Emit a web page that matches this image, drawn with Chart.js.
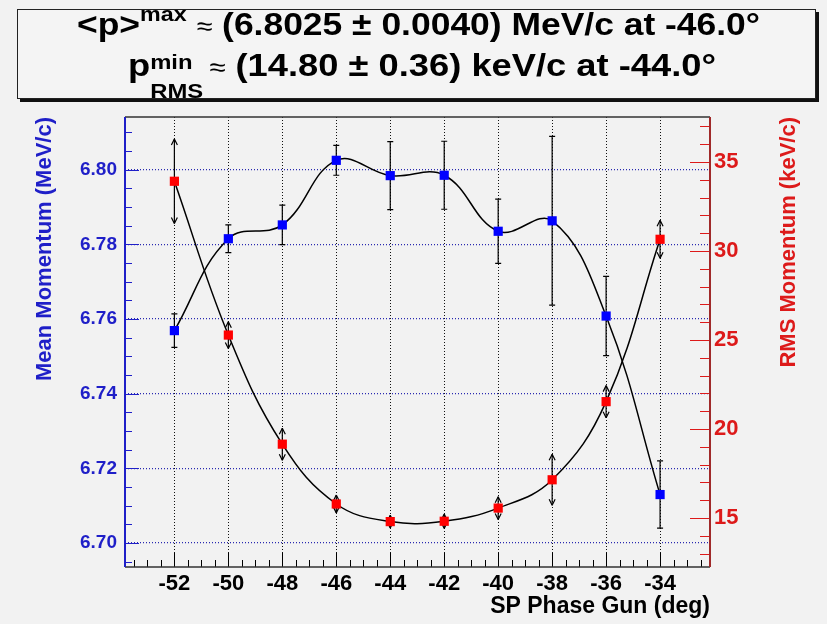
<!DOCTYPE html>
<html>
<head>
<meta charset="utf-8">
<script src="https://cdn.jsdelivr.net/npm/chart.js@4.4.0/dist/chart.umd.min.js"></script>
<style>
  html, body { margin: 0; padding: 0; background: #f2f2f2; }
  #wrap { position: relative; width: 827px; height: 624px; background: #f2f2f2; overflow: hidden; }
  #chart { position: absolute; left: 0; top: 0; }
  #pave {
    position: absolute; left: 17px; top: 9px; width: 797px; height: 88px;
    background: #f4f4f4; border: 1px solid #222; box-shadow: 3px 3px 0 #111;
    font-family: 'Liberation Sans', Arial, sans-serif; font-weight: bold; color: #000;
  }
  .line { position: absolute; white-space: nowrap; font-size: 32px; line-height: 1; transform-origin: 0 0; }
  .sup { font-size: 21px; position: relative; top: -14px; }
  .stack { display: inline-block; position: relative; width: 52px; height: 1em; }
  .stack .up { position: absolute; left: 0; top: 7px; font-size: 21px; }
  .stack .dn { position: absolute; left: 0; top: 36px; font-size: 21px; }
  .approx { font-size: 26px; font-weight: normal; }
</style>
</head>
<body>
<div id="wrap">
  <canvas id="chart" width="827" height="624"></canvas>
  <div id="pave">
    <div class="line" id="line1"></div>
    <div class="line" id="line2"></div>
  </div>
</div>
<script>
// phase of the SP gun (deg)
const phase = [-52, -50, -48, -46, -44, -42, -40, -38, -36, -34];
// mean momentum (MeV/c) and its error
const meanMomentum = [6.7569, 6.7815, 6.7852, 6.8025, 6.7984, 6.7985, 6.7835, 6.7863, 6.7608, 6.7130];
const meanError = [0.0045, 0.0037, 0.0053, 0.0040, 0.0091, 0.0091, 0.0086, 0.0226, 0.0106, 0.0090];
// RMS momentum (keV/c) and its error
const rmsMomentum = [33.92, 25.28, 19.15, 15.79, 14.80, 14.82, 15.56, 17.15, 21.54, 30.66];
const rmsError = [2.37, 0.75, 0.90, 0.50, 0.36, 0.40, 0.64, 1.43, 0.90, 1.07];

const FONT = "'Liberation Sans', Arial, sans-serif";
const BLUE = '#1f1fc8';
const RED = '#dd1a1a';

// title box text, built from the best points
const iMax = meanMomentum.indexOf(Math.max(...meanMomentum));
const iMin = rmsMomentum.indexOf(Math.min(...rmsMomentum));
document.getElementById('line1').innerHTML =
  '&lt;p&gt;<span class="sup">max</span> <span class="approx">≈</span> (' + meanMomentum[iMax].toFixed(4) +
  ' ± ' + meanError[iMax].toFixed(4) + ') MeV/c at ' + phase[iMax].toFixed(1) + '°';
document.getElementById('line2').innerHTML =
  'p<span class="stack"><span class="up">min</span><span class="dn">RMS</span></span>' +
  '<span class="approx">≈</span> (' + rmsMomentum[iMin].toFixed(2) + ' ± ' + rmsError[iMin].toFixed(2) +
  ') keV/c at ' + phase[iMin].toFixed(1) + '°';

function fitLine(id, left, top, width) {
  const el = document.getElementById(id);
  el.style.left = left + 'px';
  el.style.top = top + 'px';
  const w = el.getBoundingClientRect().width;
  el.style.transform = 'scaleX(' + (width / w) + ')';
}
fitLine('line1', 59, -2, 683);
fitLine('line2', 110, 34, 588);

// ROOT-like axes: inner tick marks, coloured axis lines, error bars
const rootStyle = {
  id: 'rootStyle',
  beforeDatasetsDraw(chart) {
    const ctx = chart.ctx;
    chart.data.datasets.forEach((ds, di) => {
      const meta = chart.getDatasetMeta(di);
      const ys = chart.scales[ds.yAxisID];
      ctx.save();
      ctx.strokeStyle = '#000';
      ctx.fillStyle = '#000';
      ctx.lineWidth = 1.2;
      meta.data.forEach((pt, i) => {
        const v = ds.data[i].y;
        const e = ds.errors[i];
        const x = pt.x;
        const y1 = ys.getPixelForValue(v + e);
        const y2 = ys.getPixelForValue(v - e);
        ctx.beginPath();
        ctx.moveTo(x, y1);
        ctx.lineTo(x, y2);
        ctx.stroke();
        if (ds.capStyle === 'arrow') {
          [[y1, 1], [y2, -1]].forEach(([y, d]) => {
            ctx.beginPath();
            ctx.moveTo(x, y);
            ctx.lineTo(x - 3, y + d * 6);
            ctx.moveTo(x, y);
            ctx.lineTo(x + 3, y + d * 6);
            ctx.stroke();
          });
        } else {
          ctx.beginPath();
          ctx.moveTo(x - 3, y1); ctx.lineTo(x + 3, y1);
          ctx.moveTo(x - 3, y2); ctx.lineTo(x + 3, y2);
          ctx.stroke();
        }
      });
      ctx.restore();
    });
  },
  afterDraw(chart) {
    const ctx = chart.ctx;
    const a = chart.chartArea;
    const xs = chart.scales.x, yl = chart.scales.yMean, yr = chart.scales.yRms;
    ctx.save();
    // x ticks every 0.5, major every 2
    ctx.strokeStyle = '#000';
    ctx.lineWidth = 1;
    ctx.beginPath();
    for (let k = Math.ceil(xs.min * 2); k <= Math.floor(xs.max * 2); k++) {
      const px = Math.round(xs.getPixelForValue(k / 2)) + 0.5;
      const len = (k % 4 === 0) ? 14 : 7;
      ctx.moveTo(px, a.bottom);
      ctx.lineTo(px, a.bottom - len);
    }
    ctx.stroke();
    // left ticks every 0.005, major every 0.02
    ctx.strokeStyle = BLUE;
    ctx.beginPath();
    for (let k = Math.ceil(yl.min * 200); k <= Math.floor(yl.max * 200); k++) {
      const py = Math.round(yl.getPixelForValue(k / 200)) + 0.5;
      const len = (k % 4 === 0) ? 14 : 7;
      ctx.moveTo(a.left, py);
      ctx.lineTo(a.left + len, py);
    }
    ctx.stroke();
    // right ticks every 1, major every 5
    ctx.strokeStyle = RED;
    ctx.beginPath();
    for (let v = Math.ceil(yr.min); v <= Math.floor(yr.max); v++) {
      const py = Math.round(yr.getPixelForValue(v)) + 0.5;
      const len = (v % 5 === 0) ? 20 : 10;
      ctx.moveTo(a.right, py);
      ctx.lineTo(a.right - len, py);
    }
    ctx.stroke();
    // frame
    ctx.lineWidth = 1.5;
    ctx.strokeStyle = '#333';
    ctx.beginPath();
    ctx.moveTo(a.left, a.top); ctx.lineTo(a.right, a.top);
    ctx.moveTo(a.left, a.bottom); ctx.lineTo(a.right, a.bottom);
    ctx.stroke();
    ctx.lineWidth = 2;
    ctx.strokeStyle = BLUE;
    ctx.beginPath();
    ctx.moveTo(a.left, a.top); ctx.lineTo(a.left, a.bottom);
    ctx.stroke();
    ctx.strokeStyle = '#a02a2a';
    ctx.beginPath();
    ctx.moveTo(a.right, a.top); ctx.lineTo(a.right, a.bottom);
    ctx.stroke();
    // right axis title, reading bottom to top
    ctx.translate(789, a.top);
    ctx.rotate(-Math.PI / 2);
    ctx.font = 'bold 22px ' + FONT;
    ctx.fillStyle = RED;
    ctx.textAlign = 'right';
    ctx.textBaseline = 'middle';
    ctx.fillText('RMS Momentum (keV/c)', 0, 0);
    ctx.restore();
  }
};

const ctx = document.getElementById('chart');
new Chart(ctx, {
  type: 'line',
  data: {
    datasets: [
      {
        label: 'Mean Momentum',
        data: phase.map((x, i) => ({ x: x, y: meanMomentum[i] })),
        errors: meanError,
        capStyle: 'bar',
        yAxisID: 'yMean',
        borderColor: '#000',
        borderWidth: 1.5,
        tension: 0.4,
        pointStyle: 'rect',
        pointRadius: 6.5,
        pointBackgroundColor: '#0000ff',
        pointBorderWidth: 0
      },
      {
        label: 'RMS Momentum',
        data: phase.map((x, i) => ({ x: x, y: rmsMomentum[i] })),
        errors: rmsError,
        capStyle: 'arrow',
        yAxisID: 'yRms',
        borderColor: '#000',
        borderWidth: 1.5,
        tension: 0.4,
        pointStyle: 'rect',
        pointRadius: 6.5,
        pointBackgroundColor: '#ff0000',
        pointBorderWidth: 0
      }
    ]
  },
  options: {
    responsive: false,
    animation: false,
    layout: { padding: { top: 117, left: 0, right: 0, bottom: 0 } },
    plugins: {
      legend: { display: false },
      tooltip: { enabled: false }
    },
    scales: {
      x: {
        type: 'linear',
        min: -53.83,
        max: -32.15,
        afterFit: (s) => { s.height = 57; },
        ticks: {
          stepSize: 2,
          includeBounds: false,
          padding: 4,
          color: '#000',
          font: { family: FONT, size: 22, weight: 'bold' },
          callback: (v) => String(v)
        },
        grid: { color: '#111', lineWidth: 1, drawTicks: false },
        border: { display: false, dash: [1, 2] },
        title: {
          display: true,
          text: 'SP Phase Gun (deg)',
          align: 'end',
          color: '#000',
          font: { family: FONT, size: 23, weight: 'bold' },
          padding: { top: 0, bottom: 4 }
        }
      },
      yMean: {
        type: 'linear',
        position: 'left',
        min: 6.6936,
        max: 6.8141,
        afterFit: (s) => { s.width = 125; },
        ticks: {
          stepSize: 0.02,
          includeBounds: false,
          padding: 8,
          color: BLUE,
          font: { family: FONT, size: 19, weight: 'bold' },
          callback: (v) => v.toFixed(2)
        },
        grid: { color: '#2a2ab0', lineWidth: 1.2, drawTicks: false },
        border: { display: false, dash: [1, 2] },
        title: {
          display: true,
          text: 'Mean Momentum (MeV/c)',
          align: 'end',
          color: BLUE,
          font: { family: FONT, size: 22, weight: 'bold' },
          padding: { top: 32, bottom: 0 }
        }
      },
      yRms: {
        type: 'linear',
        position: 'right',
        min: 12.25,
        max: 37.53,
        afterFit: (s) => { s.width = 117; },
        ticks: {
          stepSize: 5,
          includeBounds: false,
          padding: 4,
          color: RED,
          font: { family: FONT, size: 22, weight: 'bold' }
        },
        grid: { display: false, drawTicks: false },
        border: { display: false }
      }
    }
  },
  plugins: [rootStyle]
});
</script>
</body>
</html>
